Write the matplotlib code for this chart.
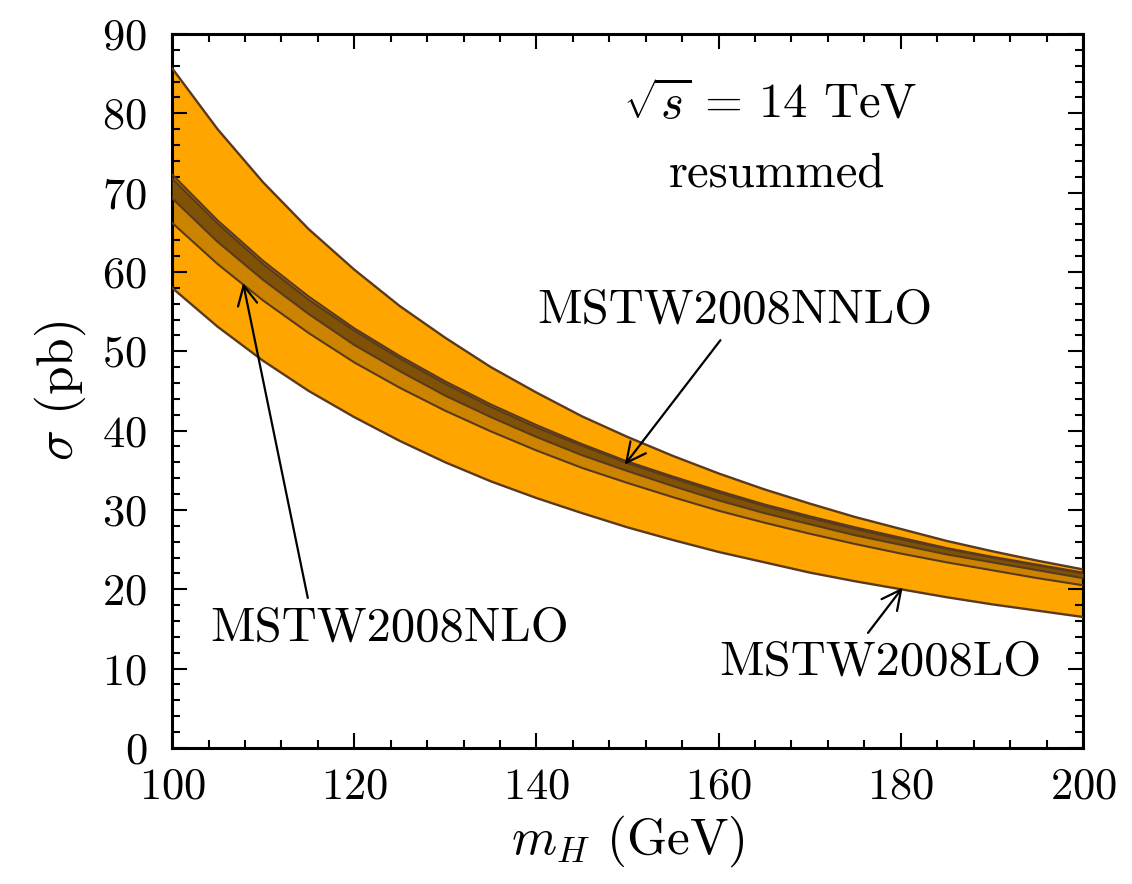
import numpy as np
import matplotlib
matplotlib.use("Agg")
import matplotlib.pyplot as plt
from matplotlib.ticker import MultipleLocator

# Higgs mass grid (GeV)
m_H = [100, 105, 110, 115, 120, 125, 130, 135, 140, 145, 150,
       155, 160, 165, 170, 175, 180, 185, 190, 195, 200]

# MSTW2008LO band (pb)
lo_upper = [85.7, 78.0, 71.3, 65.4, 60.3, 55.7, 51.7, 48.0, 44.8, 41.8, 39.2,
            36.8, 34.6, 32.6, 30.8, 29.1, 27.6, 26.1, 24.8, 23.6, 22.5]
lo_lower = [58.0, 53.1, 48.8, 45.0, 41.7, 38.7, 36.0, 33.6, 31.5, 29.6, 27.8,
            26.2, 24.7, 23.4, 22.1, 21.0, 20.0, 19.0, 18.1, 17.3, 16.5]

# MSTW2008NLO band (pb)
nlo_upper = [72.3, 66.5, 61.4, 56.9, 52.9, 49.4, 46.2, 43.3, 40.7, 38.3, 36.1,
             34.2, 32.4, 30.7, 29.2, 27.8, 26.5, 25.2, 24.1, 23.1, 22.1]
nlo_lower = [66.2, 61.0, 56.4, 52.3, 48.6, 45.4, 42.5, 39.9, 37.5, 35.3, 33.4,
             31.6, 29.9, 28.4, 27.0, 25.7, 24.5, 23.4, 22.4, 21.4, 20.5]

# MSTW2008NNLO band (pb)
nnlo_upper = [71.8, 66.1, 61.0, 56.5, 52.6, 49.1, 45.9, 43.0, 40.4, 38.1, 35.9,
              34.0, 32.2, 30.5, 29.0, 27.6, 26.3, 25.1, 24.0, 23.0, 22.0]
nnlo_lower = [69.3, 63.8, 59.0, 54.7, 50.8, 47.5, 44.4, 41.7, 39.2, 36.9, 34.9,
              33.0, 31.2, 29.6, 28.2, 26.8, 25.6, 24.4, 23.4, 22.4, 21.4]

x_ticks = [100, 120, 140, 160, 180, 200]
y_ticks = [0, 10, 20, 30, 40, 50, 60, 70, 80, 90]

plt.rcParams['font.family'] = 'serif'
plt.rcParams['font.serif'] = ['cmr10', 'DejaVu Serif']
plt.rcParams['mathtext.fontset'] = 'cm'
plt.rcParams['axes.formatter.use_mathtext'] = True

fig = plt.figure(figsize=(11.32, 8.84), dpi=100)
ax = fig.add_axes([0.152, 0.154, 0.8047, 0.8075])

edge = '#5A3A1E'
ax.fill_between(m_H, lo_lower, lo_upper, color='#FFA500', lw=0, zorder=1)
ax.plot(m_H, lo_upper, color=edge, lw=1.7, zorder=5)
ax.plot(m_H, lo_lower, color=edge, lw=1.7, zorder=5)

ax.fill_between(m_H, nlo_lower, nlo_upper, color='#CC8400', lw=0, zorder=2)
ax.fill_between(m_H, nnlo_lower, nnlo_upper, color='#7F5206', lw=0, zorder=3)
for s in (nlo_upper, nlo_lower, nnlo_upper, nnlo_lower):
    ax.plot(m_H, s, color=edge, lw=1.5, zorder=5)

ax.set_xlim(100, 200)
ax.set_ylim(0, 90)
ax.set_xticks(x_ticks)
ax.set_yticks(y_ticks)
ax.xaxis.set_minor_locator(MultipleLocator(4))
ax.yaxis.set_minor_locator(MultipleLocator(2))
ax.tick_params(which='both', direction='in', top=True, right=True, width=1.5)
ax.tick_params(which='major', length=11, labelsize=32)
ax.tick_params(axis='x', which='major', pad=14)
ax.tick_params(axis='y', which='major', pad=18)
ax.tick_params(which='minor', length=6)
for sp in ax.spines.values():
    sp.set_linewidth(2.2)

ax.set_xlabel(r'$m_H$ (GeV)', fontsize=37, labelpad=4)
ax.set_ylabel(r'$\sigma$ (pb)', fontsize=37, labelpad=10)

ax.text(165.6, 81.1, r'$\sqrt{s}\,=\,14$ TeV', fontsize=35, ha='center', va='center')
ax.text(166.4, 72.3, 'resummed', fontsize=35, ha='center', va='center')

ap = dict(arrowstyle='->', lw=1.6, color='black', mutation_scale=35, shrinkA=0, shrinkB=0)
ax.text(161.8, 55.2, 'MSTW2008NNLO', fontsize=35, ha='center', va='center')
ax.annotate('', xy=(149.7, 35.7), xytext=(160.2, 51.4), arrowprops=ap, zorder=10)
ax.text(123.9, 15.1, 'MSTW2008NLO', fontsize=35, ha='center', va='center')
ax.annotate('', xy=(107.8, 58.6), xytext=(114.9, 18.9), arrowprops=ap, zorder=10)
ax.text(177.7, 10.7, 'MSTW2008LO', fontsize=35, ha='center', va='center')
ax.annotate('', xy=(180.2, 20.2), xytext=(176.4, 14.5), arrowprops=ap, zorder=10)

fig.savefig('out.png', dpi=100)
